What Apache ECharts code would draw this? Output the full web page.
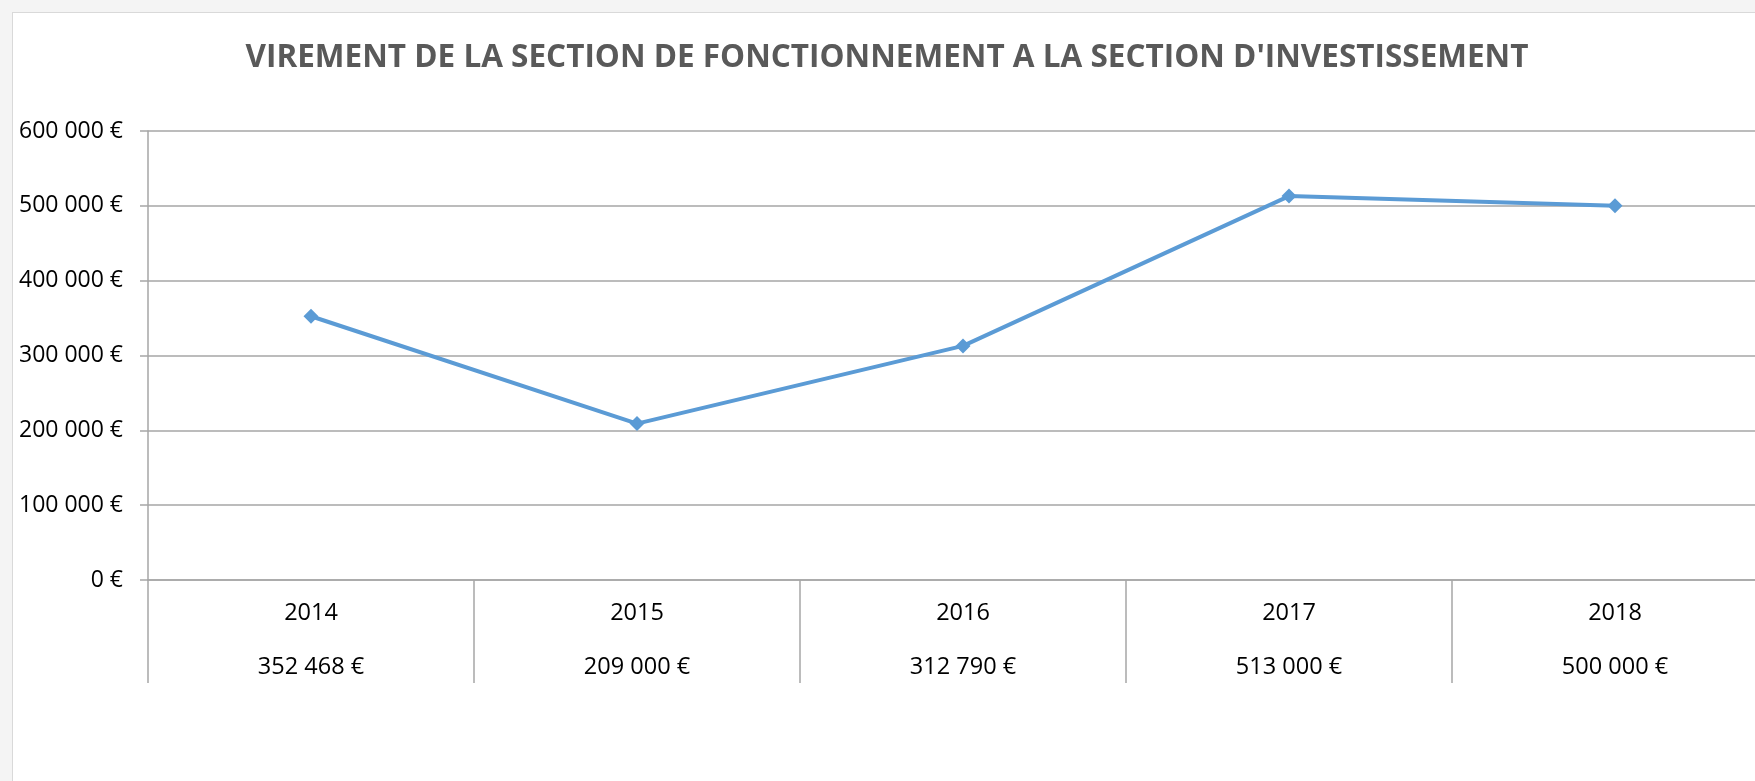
<!DOCTYPE html>
<html>
<head>
<meta charset="utf-8">
<script src="https://cdn.jsdelivr.net/npm/echarts@6/dist/echarts.min.js"></script>
<style>
  html, body { margin: 0; padding: 0; background: #f4f4f4; overflow: hidden; }
  #frame { position: absolute; left: 12px; top: 12px; width: 1800px; height: 800px; background: #fff; border: 1px solid #d9d9d9; }
  #chart { position: absolute; left: 0; top: 0; width: 1780px; height: 781px; }
</style>
</head>
<body>
<div id="frame"></div>
<div id="chart"></div>
<script>
const years = ["2014", "2015", "2016", "2017", "2018"];
const amounts = [352468, 209000, 312790, 513000, 500000];
const yTicks = { min: 0, max: 600000, interval: 100000 };

const euro = (v) => String(v).replace(/\B(?=(\d{3})+(?!\d))/g, " ") + " €";
const font = "'Open Sans', sans-serif";

const chart = echarts.init(document.getElementById("chart"));
const option = {
  backgroundColor: "transparent",
  animation: false,
  title: {
    text: "VIREMENT DE LA SECTION DE FONCTIONNEMENT A LA SECTION D'INVESTISSEMENT",
    left: 882,
    textAlign: "center",
    top: 37,
    textStyle: { fontFamily: font, fontSize: 31.5, fontWeight: "bold", color: "#595959" },
  },
  grid: {
    left: 148,
    right: 2,
    top: 131,
    bottom: 201,
  },
  xAxis: {
    type: "category",
    data: years,
    boundaryGap: true,
    axisLine: { lineStyle: { color: "#a6a6a6", width: 1.5 } },
    axisTick: { show: true, length: 103, interval: 0, lineStyle: { color: "#a6a6a6", width: 1.5 } },
    axisLabel: {
      interval: 0,
      margin: 6,
      formatter: (v, i) => "{a|" + v + "}\n{b|" + euro(amounts[i]) + "}",
      rich: {
        a: { fontFamily: font, fontSize: 23.5, color: "#000", lineHeight: 54 },
        b: { fontFamily: font, fontSize: 23.5, color: "#000", lineHeight: 54 },
      },
    },
  },
  yAxis: {
    type: "value",
    min: yTicks.min,
    max: yTicks.max,
    interval: yTicks.interval,
    axisLine: { show: true, lineStyle: { color: "#a6a6a6", width: 1.5 } },
    axisTick: { show: true, length: 8, lineStyle: { color: "#a6a6a6", width: 1.5 } },
    splitLine: { lineStyle: { color: "#a6a6a6", width: 1.5 } },
    axisLabel: {
      margin: 25,
      fontFamily: font,
      fontSize: 23,
      color: "#000",
      formatter: euro,
    },
  },
  series: [
    {
      type: "line",
      data: amounts,
      symbol: "diamond",
      symbolSize: 15,
      lineStyle: { color: "#5b9bd5", width: 4 },
      itemStyle: { color: "#5b9bd5" },
    },
  ],
};
chart.setOption(option);
</script>
</body>
</html>
